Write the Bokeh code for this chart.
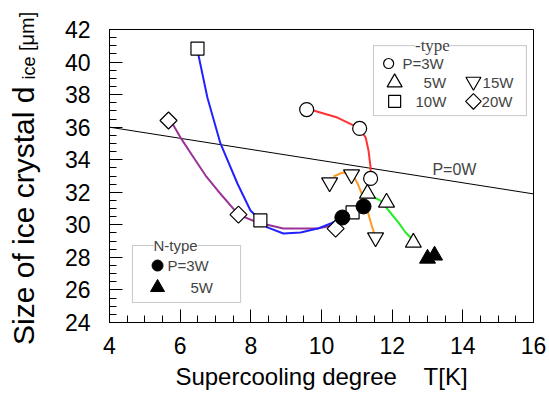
import math
from bokeh.plotting import figure
from bokeh.layouts import row
from bokeh.models import Label, BoxAnnotation, SingleIntervalTicker, Range1d, Div
from bokeh.embed import file_html
from bokeh.resources import INLINE

# ---------------- data ----------------
# P-type measurements (open markers)
p3_x = [9.58, 11.08, 11.39];   p3_y = [37.08, 35.92, 32.85]
p5_x = [11.30, 11.84, 12.60];  p5_y = [31.92, 31.37, 28.91]
p15_x = [10.23, 10.85, 11.53]; p15_y = [32.60, 33.09, 29.22]
p10_x = [6.49, 8.27, 10.88];   p10_y = [40.83, 30.27, 30.76]
p20_x = [5.67, 7.65, 10.40];   p20_y = [36.41, 30.63, 29.77]
# N-type measurements (filled markers)
n3_x = [10.59, 11.19]; n3_y = [30.45, 31.13]
n5_x = [13.00, 13.20]; n5_y = [27.93, 28.12]

# fitted curves
c3_x = [9.58, 9.77, 10.45, 11.08, 11.25, 11.33, 11.39, 11.39]
c3_y = [37.08, 37.02, 36.59, 35.92, 35.36, 34.57, 33.52, 32.85]
c5_x = [11.44, 11.67, 11.90, 12.18, 12.38, 12.58]
c5_y = [31.74, 31.49, 30.88, 30.14, 29.53, 29.10]
c15_x = [10.34, 10.59, 10.88, 11.02, 11.16, 11.30, 11.42, 11.53]
c15_y = [32.97, 33.21, 33.09, 32.54, 31.80, 30.88, 29.96, 29.22]
c10_x = [6.49, 6.52, 6.77, 7.14, 7.62, 7.99, 8.47, 8.92, 9.41, 9.89, 10.26, 10.68, 10.96]
c10_y = [40.83, 40.40, 37.82, 35.00, 32.54, 30.88, 29.84, 29.47, 29.53, 29.77, 30.08, 30.57, 30.88]
c20_x = [5.67, 5.73, 6.01, 6.38, 6.72, 7.06, 7.65, 8.19, 8.92, 9.89, 10.31, 10.59]
c20_y = [36.41, 36.41, 35.36, 34.14, 33.03, 32.11, 30.63, 30.14, 29.77, 29.77, 29.96, 30.33]

# P = 0W reference line
p0_x = [4, 16]; p0_y = [36.0, 31.9]

x_ticks_interval = 2
y_ticks_interval = 2

SANS = "Liberation Sans"
SERIF = "Liberation Serif"
NB = "\u00a0"

W1 = 45
H = 398

# ---------- y-axis title (rotated HTML text with a real subscript) ----------
ytitle = Div(
    text=('<div style="position:absolute; left:9px; top:345px; transform-origin:0 0; '
          'transform:rotate(-90deg); white-space:nowrap; font-family:\'Liberation Sans\'; '
          'font-size:30px; line-height:30px; color:black;">'
          'Size of ice crystal d'
          '<span style="font-size:18px; margin-left:7px; position:relative; top:1px;">ice</span>'
          '<span style="font-size:20px;"> [\u03bcm]</span></div>'),
    width=W1, height=H, margin=0,
    styles={"position": "relative", "overflow": "visible"})

# ---------- main plot ----------
p = figure(width=549 - W1, height=H, output_backend="svg", toolbar_location=None,
           x_range=Range1d(4, 16), y_range=Range1d(24, 42),
           min_border_left=109 - W1, min_border_right=16, min_border_top=29, min_border_bottom=76)
p.grid.visible = False
p.background_fill_color = "white"
p.border_fill_color = "white"
p.outline_line_color = "black"
p.outline_line_width = 1

for ax, iv in ((p.xaxis, x_ticks_interval), (p.yaxis, y_ticks_interval)):
    ax.ticker = SingleIntervalTicker(interval=iv, num_minor_ticks=4)
    ax.major_tick_in = 13
    ax.major_tick_out = 0
    ax.minor_tick_in = 7
    ax.minor_tick_out = 0
    ax.axis_line_color = "black"
    ax.major_tick_line_color = "black"
    ax.minor_tick_line_color = "black"
    ax.major_label_text_font = SANS
    ax.major_label_text_font_size = "23px"
    ax.major_label_text_color = "black"
p.xaxis.major_label_standoff = 14
p.yaxis.major_label_standoff = 19

p.xaxis.axis_label = "Supercooling degree" + NB * 4 + "T[K]"
p.xaxis.axis_label_text_font = SANS
p.xaxis.axis_label_text_font_size = "24px"
p.xaxis.axis_label_text_font_style = "normal"
p.xaxis.axis_label_text_color = "black"
p.xaxis.axis_label_standoff = 6

# reference line
p.line(p0_x, p0_y, line_color="black", line_width=1)

# curves
p.line(c20_x, c20_y, line_color="#993399", line_width=2)
p.line(c10_x, c10_y, line_color="#2222ff", line_width=2)
p.line(c3_x, c3_y, line_color="#ff3333", line_width=2)
p.line(c15_x, c15_y, line_color="#ff9922", line_width=2)
p.line(c5_x, c5_y, line_color="#22ee22", line_width=2)

# markers
ow = dict(fill_color="white", line_color="black", line_width=1.2)
p.scatter(p3_x, p3_y, marker="circle", size=14, **ow)
p.scatter(p5_x, p5_y, marker="triangle", size=16, **ow)
p.scatter(p15_x, p15_y, marker="inverted_triangle", size=16, **ow)
p.scatter(p10_x, p10_y, marker="square", size=13, **ow)
p.scatter(p20_x, p20_y, marker="square", angle=math.pi / 4, size=12, **ow)
p.scatter(n3_x, n3_y, marker="circle", size=15, fill_color="black", line_color="black")
p.scatter(n5_x, n5_y, marker="triangle", size=16, fill_color="black", line_color="black")

p.add_layout(Label(x=13.14, y=33.40, text="P=0W", text_font=SANS, text_font_size="16px",
                   text_baseline="middle", text_align="left"))

# ---------- P-type legend ----------
p.add_layout(BoxAnnotation(left=11.47, right=15.80, top=41.01, bottom=36.71,
                           fill_alpha=0, line_color="#444444", line_width=1))
p.add_layout(Label(x=13.14, y=41.01, text="-type", text_font=SERIF, text_font_size="17px",
                   text_align="center", text_baseline="middle", background_fill_color="white"))
p.scatter([11.90], [39.91], marker="circle", size=10, **ow)
p.scatter([12.07], [38.74], marker="triangle", size=15, **ow)
p.scatter([14.30], [38.80], marker="inverted_triangle", size=15, **ow)
p.scatter([12.07], [37.58], marker="square", size=12, **ow)
p.scatter([14.30], [37.58], marker="square", angle=math.pi / 4, size=11, **ow)
for tx, ty, tt in ((12.29, 39.91, "P=3W"), (12.89, 38.74, "5W"), (14.56, 38.74, "15W"),
                   (12.66, 37.58, "10W"), (14.53, 37.58, "20W")):
    p.add_layout(Label(x=tx, y=ty, text=tt, text_font=SANS, text_font_size="15px",
                       text_baseline="middle", text_align="left"))

# ---------- N-type legend ----------
p.add_layout(BoxAnnotation(left=4.65, right=7.71, top=28.73, bottom=25.23,
                           fill_alpha=0, line_color="#444444", line_width=1))
p.add_layout(Label(x=5.87, y=28.73, text="N-type", text_font=SANS, text_font_size="15px",
                   text_align="center", text_baseline="middle", background_fill_color="white"))
p.scatter([5.36], [27.50], marker="circle", size=11, fill_color="black", line_color="black")
p.scatter([5.36], [26.15], marker="triangle", size=14, fill_color="black", line_color="black")
p.add_layout(Label(x=5.64, y=27.50, text="P=3W", text_font=SANS, text_font_size="15px",
                   text_baseline="middle", text_align="left"))
p.add_layout(Label(x=6.29, y=26.15, text="5W", text_font=SANS, text_font_size="15px",
                   text_baseline="middle", text_align="left"))

layout = row(ytitle, p, spacing=0)
open("out.html", "w").write(file_html(layout, INLINE))
